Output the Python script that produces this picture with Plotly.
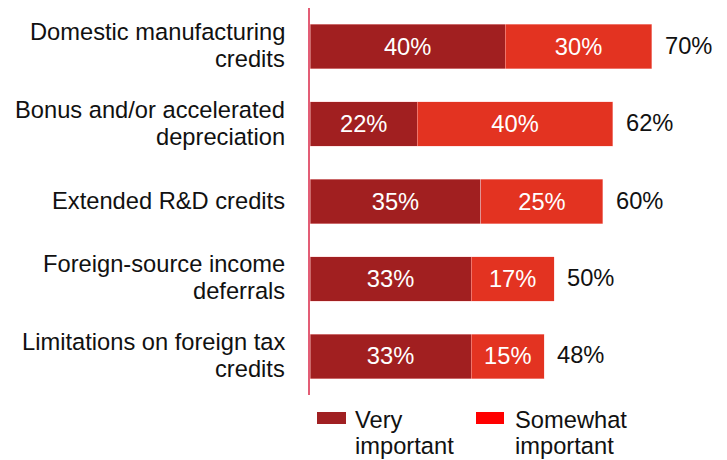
import plotly.graph_objects as go

# Survey results: share of respondents rating each tax provision
categories = [
    "Domestic manufacturing<br>credits",
    "Bonus and/or accelerated<br>depreciation",
    "Extended R&D credits",
    "Foreign-source income<br>deferrals",
    "Limitations on foreign tax<br>credits",
]
very_important = [40, 22, 35, 33, 33]
somewhat_important = [30, 40, 25, 17, 15]
totals = [70, 62, 60, 50, 48]
series_names = ["Very<br>important", "Somewhat<br>important"]

DARK = "#A11F20"
RED = "#E33321"
LEGEND_COLORS = ["#A02022", "#FF0000"]
FONT = "Liberation Sans, Arial, sans-serif"
FS = 23.7

W, H = 727, 460
ML, MR, MT, MB = 310, 2, 8, 65
PW, PH = W - ML - MR, H - MT - MB
XMAX = 85

fig = go.Figure()
for vals, color in [(very_important, DARK), (somewhat_important, RED)]:
    fig.add_trace(go.Bar(
        y=categories, x=vals, orientation="h",
        marker=dict(color=color, line=dict(color="rgba(255,200,200,0.55)", width=0.8)),
        texttemplate="%{x}%", textposition="inside", insidetextanchor="middle",
        textangle=0, constraintext="none",
        textfont=dict(color="#FFFFFF", size=FS, family=FONT),
        showlegend=False, hoverinfo="skip",
    ))

annotations = []
# Totals to the right of each stacked bar
for cat, tot in zip(categories, totals):
    annotations.append(dict(
        x=tot, y=cat, xref="x", yref="y", text=f"{tot}%", showarrow=False,
        xanchor="left", yanchor="middle", xshift=11, yshift=1,
        font=dict(size=FS, color="#111111", family=FONT),
    ))

# Category labels, one annotation per line for tight line spacing
LINE = 27
for cat in categories:
    lines = cat.split("<br>")
    n = len(lines)
    for i, ln in enumerate(lines):
        off = (i - (n - 1) / 2) * LINE
        annotations.append(dict(
            x=0, y=cat, xref="paper", yref="y", text=ln, showarrow=False,
            xanchor="right", yanchor="middle", xshift=-23, yshift=-off + 1,
            font=dict(size=FS, color="#111111", family=FONT),
        ))

# Custom legend below the plot
def px_to_paper(px, py):
    return (px - ML) / PW, (H - MB - py) / PH

shapes = []
legend_x = [(317, 346, 353), (476, 504, 513)]
for (x0, x1, tx), name, col in zip(legend_x, series_names, LEGEND_COLORS):
    a0, b0 = px_to_paper(x0, 424)
    a1, b1 = px_to_paper(x1, 412)
    shapes.append(dict(type="rect", xref="paper", yref="paper",
                       x0=a0, x1=a1, y0=b0, y1=b1,
                       fillcolor=col, line=dict(width=0)))
    for i, ln in enumerate(name.split("<br>")):
        tx_p, ty_p = px_to_paper(tx, 420 + i * 26)
        annotations.append(dict(
            x=tx_p, y=ty_p, xref="paper", yref="paper", text=ln, showarrow=False,
            xanchor="left", yanchor="middle",
            font=dict(size=FS, color="#111111", family=FONT),
        ))

fig.update_layout(
    width=W, height=H,
    margin=dict(l=ML, r=MR, t=MT, b=MB, pad=0),
    barmode="stack", bargap=0.426,
    paper_bgcolor="white", plot_bgcolor="white",
    font=dict(family=FONT, size=FS, color="#111111"),
    xaxis=dict(range=[0, XMAX], visible=False, fixedrange=True),
    yaxis=dict(autorange="reversed", showticklabels=False, showgrid=False,
               zeroline=False, showline=True, linecolor="#E35D75", linewidth=2,
               ticks="", fixedrange=True),
    annotations=annotations, shapes=shapes,
    uniformtext=dict(mode=False),
)

fig.write_html("out.html")
